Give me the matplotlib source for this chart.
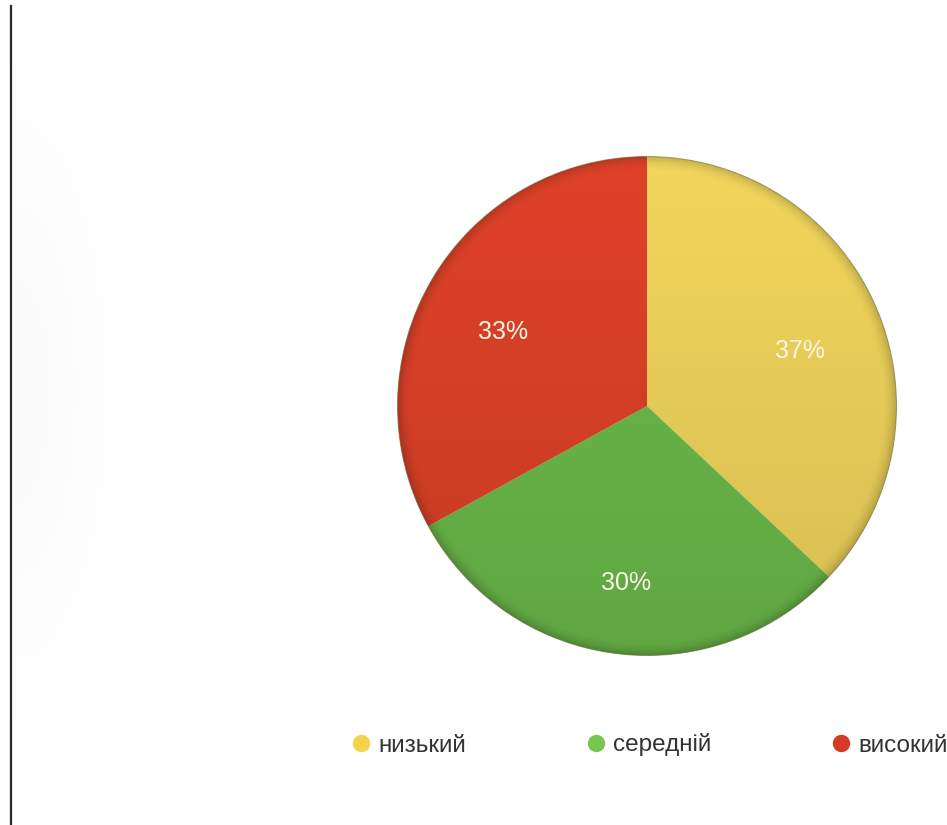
import numpy as np
import matplotlib
matplotlib.use("Agg")
import matplotlib.pyplot as plt
from matplotlib.lines import Line2D
from matplotlib.patches import Circle

plt.rcParams['font.family'] = ['Liberation Sans', 'DejaVu Sans']

# levels and their shares (percent)
levels = ["низький", "середній", "високий"]
shares = [37, 30, 33]
slice_colors = ["#F1D55C", "#6CBB4A", "#DE4228"]
legend_colors = ["#F4D24E", "#76C650", "#D73A26"]

W, H = 947, 825
fig = plt.figure(figsize=(W / 100, H / 100), dpi=100)
fig.patch.set_facecolor("white")

# background layer: frame line on the left and a faint shade beside it
bg = fig.add_axes([0, 0, 1, 1])
bg.set_xlim(0, W)
bg.set_ylim(H, 0)
bg.axis("off")
yy, xx = np.mgrid[0:H, 0:W]
shade = np.exp(-((xx - 15) / 75.0) ** 2) * np.exp(-((yy - 390) / 230.0) ** 2)
rgba = np.zeros((H, W, 4))
rgba[..., :3] = 0.5
rgba[..., 3] = 0.03 * shade * (xx > 12)
bg.imshow(rgba, extent=(0, W, H, 0), zorder=0)
bg.plot([11, 11], [6, H], color="#2b2b2b", lw=1.6, zorder=1)

# pie
cx, cy, r = 647, 406, 252
ax = fig.add_axes([(cx - r) / W, (H - cy - r) / H, 2 * r / W, 2 * r / H])
wedges, texts, autotexts = ax.pie(
    shares, colors=slice_colors, startangle=90, counterclock=False,
    autopct="%d%%", pctdistance=0.67, radius=1,
    wedgeprops=dict(linewidth=0),
    textprops=dict(color="#FBF6E6", fontsize=18))
ax.set_xlim(-1.01, 1.01)
ax.set_ylim(-1.01, 1.01)
ax.set_aspect("equal")
ax.axis("off")

# soft vertical darkening and rim shading over the slices
gy, gx = np.mgrid[-1:1:400j, -1:1:400j]
dist = np.sqrt(gx ** 2 + gy ** 2)
overlay = np.zeros((400, 400, 4))
overlay[..., 3] = 0.11 * (gy + 1) / 2 + 0.18 * np.clip((dist - 0.94) / 0.06, 0, 1) ** 2
clip = Circle((0, 0), 1, transform=ax.transData)
im = ax.imshow(overlay, extent=(-1, 1, -1, 1), origin="upper", zorder=2)
im.set_clip_path(clip)
for t in autotexts:
    t.set_zorder(3)
    t.set_y(t.get_position()[1] - 0.045)
ax.add_patch(Circle((0, 0), 1, fill=False, edgecolor="#6e6a3a", lw=0.7, alpha=0.6, zorder=3))

# legend
handles = [Line2D([], [], marker="o", linestyle="none", markersize=11.5,
                  markerfacecolor=c, markeredgecolor=c) for c in legend_colors]
fig.legend(handles, levels, loc="center left", ncol=3, frameon=False,
           bbox_to_anchor=(352.5 / W, 1 - 745 / H), borderaxespad=0, borderpad=0,
           handlelength=0.7, handletextpad=0.35, columnspacing=5.0,
           prop=dict(size=17.5), labelcolor="#333333")

fig.savefig("out.png", dpi=100, facecolor="white")
